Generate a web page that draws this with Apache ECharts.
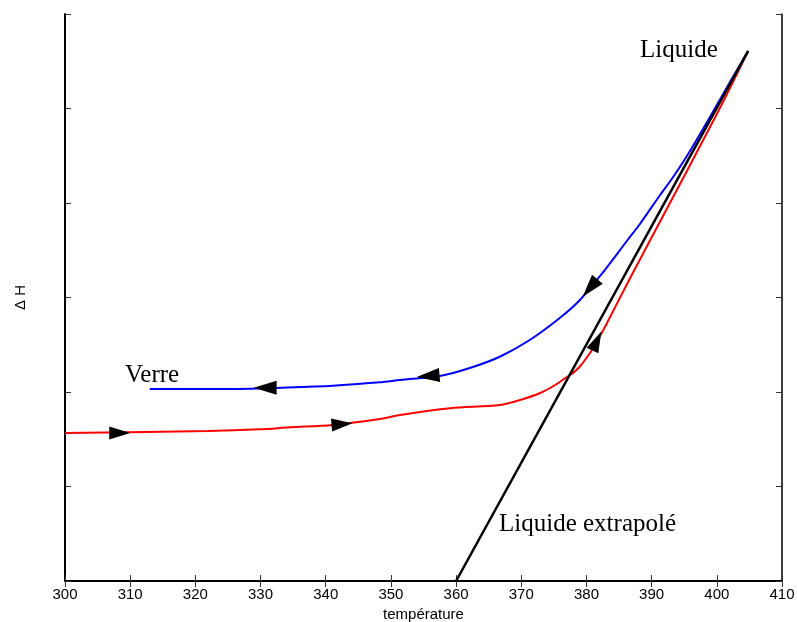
<!DOCTYPE html>
<html>
<head>
<meta charset="utf-8">
<script src="https://cdn.jsdelivr.net/npm/echarts@6/dist/echarts.min.js"></script>
<style>
  html, body { margin: 0; padding: 0; background: #fff; }
  #container { width: 797px; height: 622px; }
</style>
</head>
<body>
<div id="container"></div>
<script>
var dom = document.getElementById("container");
var chart = echarts.init(dom);

// x tick labels
const xTicks = [300, 310, 320, 330, 340, 350, 360, 370, 380, 390, 400, 410];

// cooling (blue) curve: [temperature, dH]
const verreData = [
    [313.0, 2.032], [326.4, 2.032], [333.0, 2.045], [341.1, 2.067], [348.3, 2.103],
    [351.4, 2.127], [357.5, 2.169], [362.1, 2.254], [366.7, 2.373], [371.3, 2.550],
    [375.9, 2.783], [379.0, 2.974], [382.1, 3.228], [386.2, 3.598], [388.2, 3.778],
    [391.3, 4.085], [393.3, 4.275], [395.7, 4.529], [399.3, 4.952], [402.2, 5.302],
    [404.8, 5.608]
];

// heating (red) curve
const chauffeData = [
    [300.0, 1.566], [321.9, 1.587], [329.9, 1.605], [334.5, 1.626], [341.1, 1.651],
    [348.3, 1.714], [351.4, 1.757], [359.1, 1.828], [366.7, 1.862], [369.8, 1.915],
    [372.9, 1.989], [375.2, 2.074], [377.0, 2.159], [378.0, 2.205], [379.0, 2.27],
    [380.0, 2.36], [381.0, 2.46], [382.0, 2.58], [383.15, 2.73], [386.8, 3.22],
    [392.5, 3.96], [397.1, 4.56], [401.1, 5.09], [404.8, 5.608]
];

// extrapolated liquid line
const liquideData = [[360.0, 0.0], [404.8, 5.608]];

// arrow heads: [temperature, dH, rotation]
const arrowsRed = [[308.4, 1.566, -90], [342.5, 1.66, -85], [381.6, 2.54, -25]];
const arrowsBlue = [[330.7, 2.045, 90], [355.7, 2.17, 95], [380.55, 3.10, 140]];

function arrowSeries(list, size) {
    return {
        type: "scatter",
        symbol: "triangle",
        symbolSize: size,
        symbolRotate: function (v) { return v[2]; },
        itemStyle: { color: "#000", opacity: 1 },
        data: list,
        z: 10,
        silent: true,
        animation: false
    };
}

var axisLine = { show: true, lineStyle: { color: "#000", width: 1.5 } };
var tick = { show: true, inside: true, length: 6, lineStyle: { color: "#333", width: 1 } };

var option = {
    animation: false,
    grid: { left: 65, right: 15, top: 14, bottom: 41, outerBoundsMode: "none" },
    xAxis: [
        {
            type: "value",
            min: 300, max: 410, interval: 10,
            position: "bottom",
            name: "température",
            nameLocation: "middle",
            nameGap: 24,
            nameTextStyle: { fontFamily: "Liberation Sans", fontSize: 15, color: "#000" },
            axisLine: { show: true, lineStyle: { color: "#000", width: 2 } },
            axisTick: tick,
            splitLine: { show: false },
            axisLabel: {
                fontFamily: "Liberation Sans", fontSize: 15, color: "#000", margin: 6,
                formatter: function (v) { return xTicks.indexOf(v) >= 0 ? String(v) : ""; }
            }
        },
        {
            type: "value",
            min: 300, max: 410, interval: 10,
            position: "top",
            axisLine: axisLine,
            axisTick: tick,
            splitLine: { show: false },
            axisLabel: { show: false }
        }
    ],
    yAxis: [
        {
            type: "value",
            min: 0, max: 6, interval: 1,
            position: "left",
            name: "Δ H",
            nameLocation: "middle",
            nameGap: 37,
            nameRotate: 90,
            nameTextStyle: { fontFamily: "Liberation Sans", fontSize: 15, color: "#000" },
            axisLine: { show: true, lineStyle: { color: "#000", width: 2 } },
            axisTick: tick,
            splitLine: { show: false },
            axisLabel: { show: false }
        },
        {
            type: "value",
            min: 0, max: 6, interval: 1,
            position: "right",
            axisLine: axisLine,
            axisTick: tick,
            splitLine: { show: false },
            axisLabel: { show: false }
        }
    ],
    series: [
        {
            type: "line",
            data: liquideData,
            showSymbol: false,
            lineStyle: { color: "#000", width: 2.5 },
            z: 3
        },
        {
            type: "line",
            data: chauffeData,
            showSymbol: false,
            smooth: 0.3,
            lineStyle: { color: "#ff0000", width: 2 },
            z: 2
        },
        {
            type: "line",
            data: verreData,
            showSymbol: false,
            smooth: 0.3,
            lineStyle: { color: "#0000ff", width: 2 },
            z: 2
        },
        arrowSeries(arrowsRed, [13, 21]),
        arrowSeries(arrowsBlue, [14, 23])
    ],
    graphic: {
        elements: [
            {
                type: "text", left: 640, top: 38,
                style: { text: "Liquide", font: "25px 'Liberation Serif', serif", fill: "#000" }
            },
            {
                type: "text", left: 125, top: 363,
                style: { text: "Verre", font: "25px 'Liberation Serif', serif", fill: "#000" }
            },
            {
                type: "text", left: 499, top: 512,
                style: { text: "Liquide extrapolé", font: "25px 'Liberation Serif', serif", fill: "#000" }
            }
        ]
    }
};

chart.setOption(option);
</script>
</body>
</html>
